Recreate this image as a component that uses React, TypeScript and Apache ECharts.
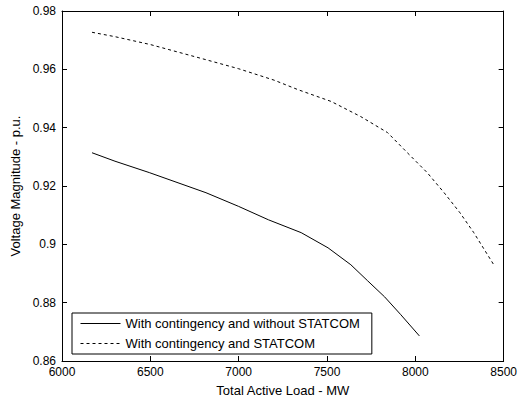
import React, { useEffect, useRef } from "react";
import * as echarts from "echarts";

const solidX = [6170, 6300, 6494, 6815, 7000, 7169, 7354, 7506, 7635, 7730, 7826, 7916, 8023];
const solidY = [0.9314, 0.9285, 0.9246, 0.9177, 0.913, 0.9084, 0.904, 0.8988, 0.893, 0.8875, 0.882, 0.876, 0.8686];
const dashX = [6170, 6300, 6500, 6815, 7000, 7200, 7337, 7523, 7691, 7843, 7955, 8067, 8163, 8253, 8331, 8444];
const dashY = [0.9727, 0.9712, 0.9685, 0.9633, 0.9602, 0.9563, 0.953, 0.949, 0.9438, 0.9383, 0.9314, 0.9246, 0.9177, 0.9108, 0.904, 0.893];
const seriesNames = ["With contingency and without STATCOM", "With contingency and STATCOM"];
const xLabel = "Total Active Load - MW";
const yLabel = "Voltage Magnitude - p.u.";

const FONT = "'Liberation Sans', Arial, sans-serif";

export default function App() {
  const ref = useRef<HTMLDivElement>(null);
  useEffect(() => {
    document.body.style.margin = "0";
    if (!ref.current) return;
    const chart = echarts.init(ref.current, undefined, { renderer: "svg" });
    const axisCommon = {
      axisLine: { show: true, lineStyle: { color: "#000", width: 1 } },
      axisTick: { show: true, inside: true, length: 5, lineStyle: { color: "#000" } },
      splitLine: { show: false },
    };
    chart.setOption({
      animation: false,
      backgroundColor: "#fff",
      textStyle: { fontFamily: FONT },
      grid: { left: 62, right: 13, top: 11, bottom: 44 },
      xAxis: [
        {
          type: "value", min: 6000, max: 8500, interval: 500, position: "bottom",
          name: xLabel, nameLocation: "middle", nameGap: 23,
          nameTextStyle: { fontFamily: FONT, fontSize: 13, color: "#000" },
          axisLabel: { fontFamily: FONT, fontSize: 12, color: "#000", margin: 5, formatter: (v: number) => String(v) },
          ...axisCommon,
        },
        {
          type: "value", min: 6000, max: 8500, interval: 500, position: "top",
          axisLabel: { show: false }, ...axisCommon,
        },
      ],
      yAxis: [
        {
          type: "value", min: 0.86, max: 0.98, interval: 0.02, position: "left",
          name: yLabel, nameLocation: "middle", nameGap: 40,
          nameTextStyle: { fontFamily: FONT, fontSize: 13, color: "#000" },
          axisLabel: { fontFamily: FONT, fontSize: 12, color: "#000", margin: 6, formatter: (v: number) => String(Math.round(v * 100) / 100) },
          ...axisCommon,
        },
        {
          type: "value", min: 0.86, max: 0.98, interval: 0.02, position: "right",
          axisLabel: { show: false }, ...axisCommon,
        },
      ],
      legend: {
        orient: "vertical",
        left: 72, top: 313,
        backgroundColor: "#fff",
        borderColor: "#000", borderWidth: 1,
        padding: [4, 12, 4, 8],
        itemWidth: 40, itemHeight: 12, itemGap: 7,
        itemStyle: { opacity: 0 },
        lineStyle: { width: 1 },
        textStyle: { fontFamily: FONT, fontSize: 13, color: "#000" },
        data: seriesNames,
      },
      series: [
        {
          name: seriesNames[0], type: "line", showSymbol: false, symbol: "none",
          data: solidX.map((x, i) => [x, solidY[i]]),
          lineStyle: { color: "#000", width: 1 }, itemStyle: { color: "#000" },
        },
        {
          name: seriesNames[1], type: "line", showSymbol: false, symbol: "none",
          data: dashX.map((x, i) => [x, dashY[i]]),
          lineStyle: { color: "#000", width: 1, type: [3, 3] }, itemStyle: { color: "#000" },
        },
      ],
    });
    return () => chart.dispose();
  }, []);
  return <div ref={ref} style={{ width: 520, height: 405 }} />;
}
